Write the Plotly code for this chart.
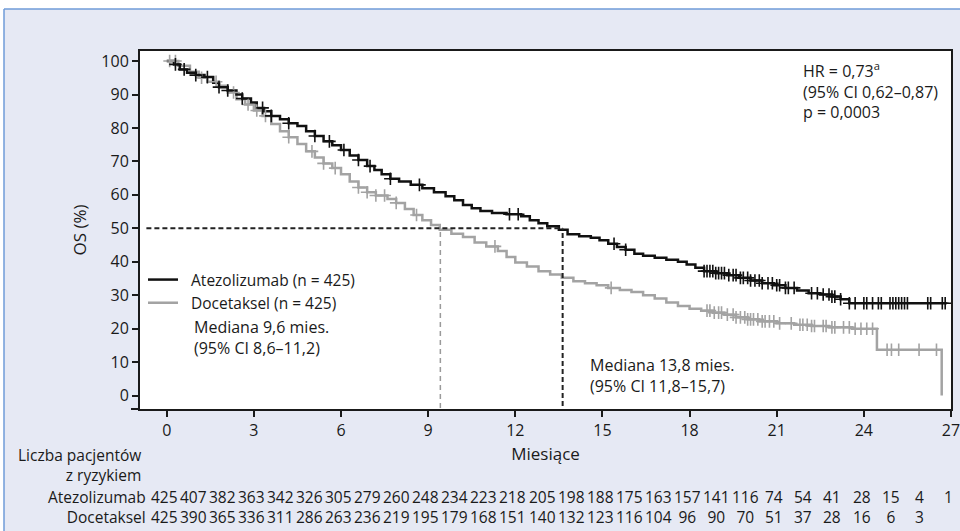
import numpy as np
import plotly.graph_objects as go

# ---------------- data ----------------
atezo_t = [0, 0.25, 0.45, 0.7, 1.0, 1.3, 1.6, 1.8, 2.1, 2.4, 2.6, 2.9, 3.1, 3.35, 3.6, 3.9, 4.2, 4.5,
           4.8, 5.1, 5.4, 5.7, 6.0, 6.3, 6.6, 6.9, 7.15, 7.4, 7.7, 8.0, 8.4, 8.8, 9.2, 9.6, 9.9, 10.2,
           10.5, 10.8, 11.2, 11.7, 12.2, 12.5, 12.8, 13.1, 13.5, 13.8, 14.2, 14.6, 14.9, 15.2, 15.5,
           15.8, 16.1, 16.4, 16.8, 17.2, 17.6, 17.9, 18.2, 18.5, 18.9, 19.3, 19.7, 20.1, 20.5, 20.9,
           21.3, 21.7, 22.1, 22.5, 22.9, 23.2, 23.5, 26.85]
atezo_s = [100, 99, 97.5, 96.5, 95.8, 95.2, 93.5, 92.2, 91.2, 90, 88.8, 87.6, 86, 85, 83.6, 82.6, 81.4, 80.6,
           79, 77.6, 76, 74.8, 73.4, 71.8, 70.4, 68.6, 67.4, 66.2, 64.8, 64, 63, 62, 60.8, 59.6, 58.4, 57,
           56, 55.2, 54.6, 54.2, 53.6, 52.4, 51.5, 50.6, 49.6, 48.2, 47.6, 47.2, 46.4, 45.4, 44.4,
           43.6, 42.4, 41.8, 41.2, 40.6, 40, 39.2, 38.2, 37.2, 36.6, 36, 35.2, 34.4, 33.6, 33,
           32.2, 31.4, 30.6, 30.2, 29.6, 28.8, 27.6, 27.6]

doce_t = [0, 0.4, 0.8, 1.1, 1.4, 1.8, 2.1, 2.4, 2.7, 3.0, 3.3, 3.6, 3.9, 4.2, 4.5, 4.8, 5.1, 5.4, 5.7,
          6.0, 6.3, 6.6, 6.9, 7.2, 7.6, 7.9, 8.2, 8.5, 8.8, 9.1, 9.4, 9.8, 10.2, 10.6, 11.0, 11.4, 11.7,
          12.0, 12.4, 12.8, 13.2, 13.6, 14.0, 14.4, 14.8, 15.2, 15.6, 16.0, 16.4, 16.8, 17.2, 17.6,
          18.0, 18.4, 18.8, 19.2, 19.6, 20.0, 20.4, 21.0, 21.6, 22.2, 22.8, 23.6, 24.45, 26.68]
doce_s = [100, 98.6, 96.8, 95, 93.8, 92.6, 90.6, 88.6, 87, 85.2, 83.6, 81.2, 79, 77.2, 75.2, 73, 71.2, 69.4, 68,
          66.2, 64, 62.2, 60.8, 59.8, 58.8, 57.6, 55.8, 54, 52.4, 51, 49.6, 48.4, 47.4, 45.8, 44.6, 43.2, 41.4,
          39.8, 38.6, 37.2, 36.2, 35.2, 34.2, 33.6, 33, 32.2, 31.6, 31, 30, 29, 27.8, 26.8,
          26, 25.4, 24.8, 24.2, 23.4, 22.8, 22.2, 21.6, 21.2, 20.8, 20.4, 20, 13.7, 0]

atezo_cens = [0.3, 0.6, 1.0, 1.4, 1.8, 2.1, 2.6, 3.3, 3.6, 4.2, 5.1, 5.6, 6.1, 6.6, 7.0, 7.7, 8.7, 11.8, 12.1,
              15.4, 15.8, 18.5, 18.6, 18.7, 18.8, 18.9, 19.0, 19.1, 19.2, 19.35, 19.5, 19.6, 19.75, 19.85,
              20.0, 20.1, 20.25, 20.4, 20.5, 20.7, 20.85, 21.0, 21.1, 21.3, 21.4, 21.6, 22.2, 22.4, 22.6,
              22.8, 22.9, 23.0, 23.2, 23.5, 23.7, 24.0, 24.1, 24.3, 24.5, 24.6, 24.9, 25.0, 25.1, 25.2,
              25.3, 25.4, 25.5, 26.2, 26.3, 26.7, 26.8]
doce_cens = [0.1, 0.3, 1.2, 1.7, 2.3, 2.8, 3.1, 3.4, 4.2, 5.0, 5.4, 5.8, 6.6, 6.9, 7.2, 7.5, 7.9, 8.6, 11.3,
             15.3, 18.6, 18.7, 18.85, 19.0, 19.1, 19.3, 19.5, 19.6, 19.75, 19.9, 20.0, 20.1, 20.2, 20.35,
             20.5, 20.6, 20.75, 20.9, 21.1, 21.5, 21.8, 21.9, 22.05, 22.2, 22.3, 22.6, 22.7, 22.9, 23.0,
             23.3, 23.5, 23.7, 23.9, 24.1, 24.3, 24.8, 24.95, 25.2, 25.9, 26.5]

median_docetaksel = 9.42
median_atezolizumab = 13.63
median_level = 50

risk_months = list(range(0, 28))
risk_atezo = [425, 407, 382, 363, 342, 326, 305, 279, 260, 248, 234, 223, 218, 205, 198, 188, 175, 163,
              157, 141, 116, 74, 54, 41, 28, 15, 4, 1]
risk_doce = [425, 390, 365, 336, 311, 286, 263, 236, 219, 195, 179, 168, 151, 140, 132, 123, 116, 104,
             96, 90, 70, 51, 37, 28, 16, 6, 3]

x_ticks = list(range(0, 28, 3))
y_ticks = list(range(0, 101, 10))

# ---------------- styles ----------------
FONT = "Open Sans"
INK = "#1a1a1a"
BLACK = "#111111"
GREY = "#a3a3a3"
BG = "#e6e9f4"
BORDER = "#6f9bd8"
NBSP = "\u00a0"

W, H = 960, 531
ML, MR, MT, MB = 140, 9, 51, 122
PW, PH = W - ML - MR, H - MT - MB


def px_x(p):
    return (p - ML) / PW


def px_y(p):
    return (H - MB - p) / PH


def step_at(ts, ss, t):
    i = np.searchsorted(np.array(ts), t, side="right") - 1
    return ss[max(i, 0)]


fig = go.Figure()

fig.add_trace(go.Scatter(x=doce_t, y=doce_s, mode="lines", line=dict(color=GREY, width=2.5, shape="hv"),
                         name=NBSP * 2 + "Docetaksel (n = 425)", legendrank=2))
fig.add_trace(go.Scatter(x=atezo_t, y=atezo_s, mode="lines", line=dict(color=BLACK, width=2.5, shape="hv"),
                         name=NBSP * 2 + "Atezolizumab (n = 425)", legendrank=1))

fig.add_trace(go.Scatter(x=doce_cens, y=[step_at(doce_t, doce_s, t) for t in doce_cens], mode="markers",
                         marker=dict(symbol="cross-thin", size=9, line=dict(color=GREY, width=1.6)),
                         showlegend=False, hoverinfo="skip"))
fig.add_trace(go.Scatter(x=atezo_cens, y=[step_at(atezo_t, atezo_s, t) for t in atezo_cens], mode="markers",
                         marker=dict(symbol="cross-thin", size=9, line=dict(color=BLACK, width=1.6)),
                         showlegend=False, hoverinfo="skip"))

shapes = []
# outer frame: white strips + blue border
shapes.append(dict(type="rect", xref="paper", yref="paper", x0=px_x(-5), x1=px_x(W + 5),
                   y0=px_y(9), y1=px_y(-5), fillcolor="white", line=dict(width=0), layer="below"))
shapes.append(dict(type="rect", xref="paper", yref="paper", x0=px_x(-5), x1=px_x(4),
                   y0=px_y(H + 5), y1=px_y(-5), fillcolor="white", line=dict(width=0), layer="below"))
shapes.append(dict(type="line", xref="paper", yref="paper", x0=px_x(4), x1=px_x(W + 5),
                   y0=px_y(9), y1=px_y(9), line=dict(color=BORDER, width=1.5)))
shapes.append(dict(type="line", xref="paper", yref="paper", x0=px_x(4), x1=px_x(4),
                   y0=px_y(9), y1=px_y(H + 5), line=dict(color=BORDER, width=1.5)))
# x-axis line overhang to the left
shapes.append(dict(type="line", xref="paper", yref="paper", x0=px_x(131), x1=0, y0=0, y1=0,
                   line=dict(color=INK, width=2)))
# median guides
shapes.append(dict(type="line", xref="x", yref="y", x0=-0.7, x1=median_atezolizumab,
                   y0=median_level, y1=median_level, line=dict(color="#222222", width=2, dash="5px,3px")))
shapes.append(dict(type="line", xref="x", yref="paper", x0=median_atezolizumab, x1=median_atezolizumab,
                   y0=px_y(406), y1=px_y(228.5), line=dict(color="#222222", width=2, dash="5px,3px")))
shapes.append(dict(type="line", xref="x", yref="paper", x0=median_docetaksel, x1=median_docetaksel,
                   y0=px_y(408), y1=px_y(228.5), line=dict(color="#9a9a9a", width=1.5, dash="5px,4px")))

annotations = []
annotations.append(dict(xref="x", yref="y", x=21.83, y=101.6, xanchor="left", yanchor="top", align="left",
                        showarrow=False, font=dict(family=FONT, size=16, color=INK),
                        text="HR = 0,73<sup>a</sup><br>(95% CI 0,62–0,87)<br>p = 0,0003"))
annotations.append(dict(xref="x", yref="y", x=0.88, y=24.3, xanchor="left", yanchor="top", align="left",
                        showarrow=False, font=dict(family=FONT, size=16, color=INK),
                        text="Mediana 9,6 mies.<br>(95% CI 8,6–11,2)"))
annotations.append(dict(xref="x", yref="y", x=14.5, y=13.0, xanchor="left", yanchor="top", align="left",
                        showarrow=False, font=dict(family=FONT, size=16, color=INK),
                        text="Mediana 13,8 mies.<br>(95% CI 11,8–15,7)"))

# number at risk table
annotations.append(dict(xref="paper", yref="paper", x=px_x(142), y=px_y(443), xanchor="right", yanchor="top",
                        align="right", showarrow=False, borderpad=0,
                        font=dict(family=FONT, size=15.5, color=INK),
                        text="Liczba pacjentów<br>z ryzykiem"))
annotations.append(dict(xref="paper", yref="paper", x=px_x(147), y=px_y(485), xanchor="right", yanchor="top",
                        align="right", showarrow=False, borderpad=0,
                        font=dict(family=FONT, size=15.5, color=INK),
                        text="Atezolizumab<br>Docetaksel"))
for i, m in enumerate(risk_months):
    txt = str(risk_atezo[i])
    if i < len(risk_doce):
        txt += "<br>" + str(risk_doce[i])
    annotations.append(dict(xref="x", yref="paper", x=m - 0.08, y=px_y(485), xanchor="center", yanchor="top",
                            align="center", showarrow=False, borderpad=0,
                            font=dict(family=FONT, size=15.5, color=INK), text=txt))

axis_common = dict(showline=True, linecolor=INK, linewidth=2, mirror=True, showgrid=False, zeroline=False,
                   ticks="outside", ticklen=6, tickwidth=1.5, tickcolor=INK, automargin=False,
                   ticklabeloverflow="allow",
                   tickfont=dict(family=FONT, size=16, color=INK))

fig.update_layout(
    width=W, height=H, autosize=False,
    margin=dict(l=ML, r=MR, t=MT, b=MB),
    paper_bgcolor=BG, plot_bgcolor="white",
    font=dict(family=FONT, color=INK),
    xaxis=dict(range=[-0.92, 27], tickvals=x_ticks, ticktext=[str(v) for v in x_ticks],
               title=dict(text="Miesiące", font=dict(family=FONT, size=17, color=INK), standoff=8),
               **axis_common),
    yaxis=dict(range=[-4, 103], tickvals=y_ticks, ticktext=[str(v) for v in y_ticks],
               title=dict(text="OS (%)", font=dict(family=FONT, size=17, color=INK), standoff=10),
               **axis_common),
    legend=dict(x=px_x(143), y=px_y(263), xanchor="left", yanchor="top", bgcolor="rgba(0,0,0,0)",
                font=dict(family=FONT, size=15.5, color=INK), itemwidth=30, tracegroupgap=0),
    shapes=shapes,
    annotations=annotations,
    showlegend=True,
)

fig.write_html("out.html", config={"displayModeBar": False},
               post_script="document.body.style.margin='0px';document.body.style.padding='0px';"
                           "document.body.style.overflow='hidden';")
